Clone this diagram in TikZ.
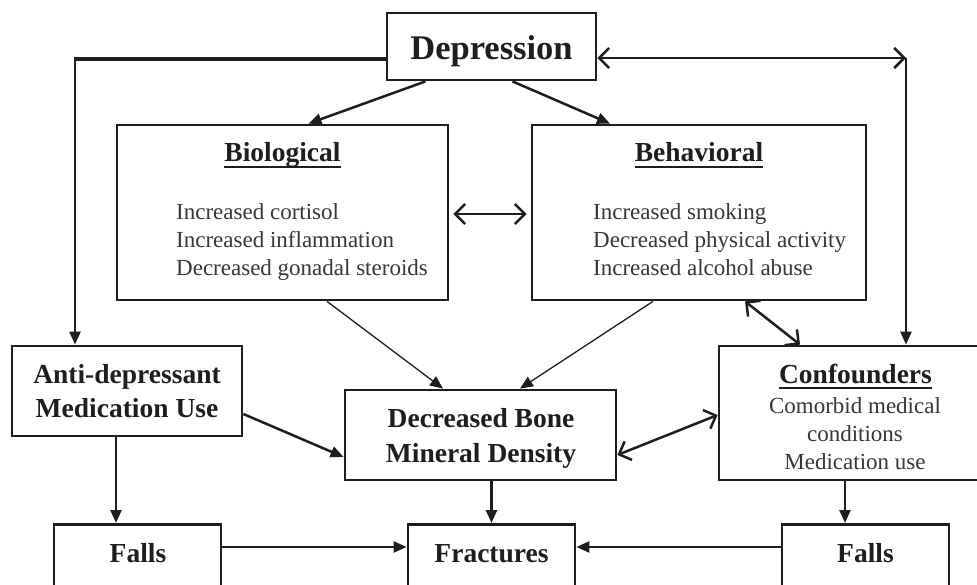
\documentclass[tikz,border=0pt]{standalone}
\usepackage{fontspec}
\setmainfont{Liberation Serif}
\usetikzlibrary{arrows.meta}
\definecolor{ink}{RGB}{30,30,30}
\definecolor{txt}{RGB}{55,55,55}
\begin{document}
\begin{tikzpicture}[x=1pt,y=-1pt,
  box/.style={draw=ink, line width=2.8pt, rectangle, inner sep=0pt, fill=white},
  bigbold/.style={font=\fontsize{34.5}{40}\selectfont\bfseries, text=ink, inner sep=0pt},
  bold/.style={font=\fontsize{27.5}{34}\selectfont\bfseries, text=ink, inner sep=0pt},
  body/.style={font=\fontsize{23}{28}\selectfont, text=txt, inner sep=0pt},
  uline/.style={draw=ink, line width=1.7pt},
  conn/.style={draw=ink, line width=2.5pt, -{Triangle[length=13pt,width=11pt]}},
  thinconn/.style={draw=ink, line width=1.3pt, -{Triangle[length=13pt,width=11pt]}},
  both/.style={draw=ink, line width=2.5pt, {Straight Barb[length=10pt,width=20pt]}-{Straight Barb[length=10pt,width=20pt]}},
]
\useasboundingbox (0,0) rectangle (977,585);
\clip (0,0) rectangle (977,585);
\fill[white] (0,0) rectangle (977,585);

% boxes
\node[box, minimum width=209pt, minimum height=67pt] (dep) at (491.5,46.5) {};
\node[box, minimum width=331pt, minimum height=175pt] (bio) at (282.5,212.5) {};
\node[box, minimum width=334pt, minimum height=175pt] (beh) at (699,212.5) {};
\node[box, minimum width=230pt, minimum height=90pt] (anti) at (127,391) {};
\node[box, minimum width=271pt, minimum height=90pt] (bmd) at (480.5,435) {};
\node[box, minimum width=276pt, minimum height=134pt] (conf) at (857,413) {};
\node[box, minimum width=167pt, minimum height=90pt, anchor=north] (fallsL) at (137.5,523) {};
\node[box, minimum width=167pt, minimum height=90pt, anchor=north] (fract) at (491.5,523) {};
\node[box, minimum width=167pt, minimum height=90pt, anchor=north] (fallsR) at (865.5,523) {};

% texts
\node[bigbold, anchor=base] (dept) at (491.5,60) {Depression};

\node[bold, anchor=base] (biot) at (282.5,162) {Biological};
\draw[uline] ([yshift=-5pt]biot.base west) -- ([yshift=-5pt]biot.base east);
\node[body, anchor=base west] (bio1) at (176,220) {Increased cortisol};
\node[body, anchor=base west] (bio2) at (176,248) {Increased inflammation};
\node[body, anchor=base west] (bio3) at (176,276) {Decreased gonadal steroids};

\node[bold, anchor=base] (beht) at (699,162) {Behavioral};
\draw[uline] ([yshift=-5pt]beht.base west) -- ([yshift=-5pt]beht.base east);
\node[body, anchor=base west] (beh1) at (593,220) {Increased smoking};
\node[body, anchor=base west] (beh2) at (593,248) {Decreased physical activity};
\node[body, anchor=base west] (beh3) at (593,276) {Increased alcohol abuse};

\node[bold, anchor=base] (anti1) at (127,383) {Anti-depressant};
\node[bold, anchor=base] (anti2) at (127,417) {Medication Use};

\node[bold, anchor=base] (bmd1) at (481,427) {Decreased Bone};
\node[bold, anchor=base] (bmd2) at (481,462) {Mineral Density};

\node[bold, anchor=base] (conft) at (855.5,383) {Confounders};
\draw[uline] ([yshift=-5pt]conft.base west) -- ([yshift=-5pt]conft.base east);
\node[body, anchor=base] (conf1) at (855,413) {Comorbid medical};
\node[body, anchor=base] (conf2) at (855,441) {conditions};
\node[body, anchor=base] (conf3) at (855,469) {Medication use};

\node[bold, anchor=base] (fallsLt) at (138,562) {Falls};
\node[bold, anchor=base] (fractt) at (491.5,562) {Fractures};
\node[bold, anchor=base] (fallsRt) at (865.5,562) {Falls};

% connectors
\coordinate (cL) at (75,59);
\coordinate (cR) at (906,58);
\draw[ink, line width=4.2pt] (dep.west |- cL) -- ([xshift=-1pt]cL);
\draw[conn] (cL) -- (cL |- anti.north);
\draw[both] (dep.east |- cR) -- (cR);
\draw[conn] (cR) -- (cR |- conf.north);

\draw[conn] ([xshift=-66pt]dep.south) -- ([xshift=26pt]bio.north);
\draw[conn] ([xshift=21pt]dep.south) -- ([xshift=-89pt]beh.north);
\draw[both, shorten <=4pt, shorten >=4pt] ([yshift=-1.5pt]bio.east) -- ([yshift=-1.5pt]beh.west);

\draw[thinconn] ([xshift=44.5pt]bio.south) -- ([xshift=-37.5pt]bmd.north);
\draw[thinconn] ([xshift=-46pt]beh.south) -- ([xshift=39.5pt]bmd.north);
\draw[both] ([xshift=46pt]beh.south) -- ([xshift=-57pt]conf.north);

\draw[conn] ([yshift=-23pt]anti.east) -- ([yshift=-22pt]bmd.west);
\draw[both] ([yshift=-20pt]bmd.east) -- ([yshift=-2pt]conf.west);

\draw[conn] ([xshift=-11pt]anti.south) -- ([xshift=-11pt]anti.south |- fallsL.north);
\draw[conn] (bmd.south -| fract.north) -- (fract.north);
\draw[conn] ([xshift=-12pt]conf.south) -- ([xshift=-12pt]conf.south |- fallsR.north);
\draw[conn] ([yshift=-24pt]fallsL.north east) -- ([yshift=-24pt]fallsL.north east -| fract.west);
\draw[conn] ([yshift=-24pt]fallsR.north west) -- ([yshift=-24pt]fallsR.north west -| fract.east);
\end{tikzpicture}
\end{document}
